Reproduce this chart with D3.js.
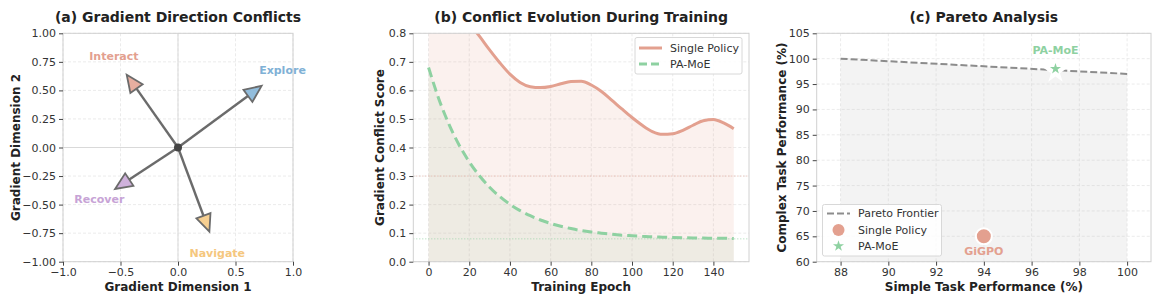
<!DOCTYPE html>
<html>
<head>
<meta charset="utf-8">
<title>Gradient conflicts, conflict evolution and Pareto analysis</title>
<script src="https://d3js.org/d3.v7.min.js"></script>
<style>
  body { margin: 0; background: #fff; }
  svg { font-family: "DejaVu Sans", sans-serif; }
  .tick text { font-size: 11px; fill: #333; }
  .title { font-size: 14px; font-weight: bold; fill: #222; }
  .alabel { font-size: 12px; font-weight: bold; fill: #222; }
  .legend text { font-size: 11px; fill: #333; }
</style>
</head>
<body>
<svg id="chart" width="1163" height="305"></svg>
<script>
// (a) gradient directions (arrow tips in gradient space)
var taskNames = ["Explore", "Interact", "Recover", "Navigate"];
var taskDx = [0.727, -0.446, -0.547, 0.273];
var taskDy = [0.540, 0.637, -0.363, -0.737];
var taskColors = ["#7fb1d6", "#e3a08f", "#c7a3d6", "#f5c77e"];
var aTicksX = [-1.0, -0.5, 0.0, 0.5, 1.0];
var aTicksY = [-1.00, -0.75, -0.50, -0.25, 0.00, 0.25, 0.50, 0.75, 1.00];

// (b) conflict score over training
var epochs = [0, 5, 10, 15, 20, 25, 30, 35, 40, 45, 50, 55, 60, 65, 70, 75, 80, 85, 90, 95,
              100, 105, 110, 115, 120, 125, 130, 135, 140, 145, 150];
var singlePolicy = [1.05, 1.00, 0.94, 0.885, 0.835, 0.79, 0.742, 0.697, 0.657, 0.628, 0.613, 0.610,
                    0.614, 0.623, 0.631, 0.632, 0.619, 0.596, 0.566, 0.535, 0.505, 0.478, 0.456,
                    0.446, 0.448, 0.460, 0.478, 0.494, 0.498, 0.486, 0.466];
var paMoE = [0.680, 0.571, 0.482, 0.409, 0.350, 0.301, 0.261, 0.228, 0.201, 0.179, 0.161, 0.146,
             0.134, 0.124, 0.116, 0.109, 0.104, 0.100, 0.096, 0.093, 0.091, 0.089, 0.087, 0.086,
             0.085, 0.084, 0.083, 0.083, 0.082, 0.082, 0.081];
var singleThreshold = 0.30, moeThreshold = 0.08;
var bTicksX = [0, 20, 40, 60, 80, 100, 120, 140];
var bTicksY = [0.0, 0.1, 0.2, 0.3, 0.4, 0.5, 0.6, 0.7, 0.8];

// (c) pareto analysis
var frontierX = [88, 100];
var frontierY = [100, 97];
var singlePoint = [94, 65];
var moePoint = [97, 98];
var cTicksX = [88, 90, 92, 94, 96, 98, 100];
var cTicksY = [60, 65, 70, 75, 80, 85, 90, 95, 100, 105];

var salmon = "#e3a08f", green = "#8ed1a1", arrowGray = "#6b6b6b";
var svg = d3.select("#chart");
var plotTop = 33.3, plotBottom = 261.7;

function panel(x0, x1, xDom, yDom, xt, yt, xfmt, yfmt, title, xl, yl, ylx) {
  var x = d3.scaleLinear().domain(xDom).range([x0, x1]);
  var y = d3.scaleLinear().domain(yDom).range([plotBottom, plotTop]);
  var g = svg.append("g");
  // grid
  g.selectAll(".gx").data(xt).enter().append("line")
    .attr("x1", d => x(d)).attr("x2", d => x(d)).attr("y1", plotTop).attr("y2", plotBottom)
    .attr("stroke", "#e6e6e6").attr("stroke-width", 0.8).attr("stroke-dasharray", "3,2");
  g.selectAll(".gy").data(yt).enter().append("line")
    .attr("y1", d => y(d)).attr("y2", d => y(d)).attr("x1", x0).attr("x2", x1)
    .attr("stroke", "#e6e6e6").attr("stroke-width", 0.8).attr("stroke-dasharray", "3,2");
  var plot = svg.append("g");
  var over = svg.append("g");
  over.append("rect").attr("x", x0).attr("y", plotTop).attr("width", x1 - x0).attr("height", plotBottom - plotTop)
    .attr("fill", "none").attr("stroke", "#d0d0d0").attr("stroke-width", 1);
  var ax = over.append("g").attr("transform", "translate(0," + plotBottom + ")")
    .call(d3.axisBottom(x).tickValues(xt).tickFormat(xfmt).tickSize(4).tickPadding(3));
  var ay = over.append("g").attr("transform", "translate(" + x0 + ",0)")
    .call(d3.axisLeft(y).tickValues(yt).tickFormat(yfmt).tickSize(4).tickPadding(3));
  [ax, ay].forEach(function(a) {
    a.select(".domain").remove();
    a.selectAll(".tick line").attr("stroke", "#444");
    a.selectAll(".tick text").attr("font-family", "DejaVu Sans");
  });
  over.append("text").attr("class", "title").attr("text-anchor", "middle")
    .attr("x", (x0 + x1) / 2).attr("y", 22).text(title);
  over.append("text").attr("class", "alabel").attr("text-anchor", "middle")
    .attr("x", (x0 + x1) / 2).attr("y", 291).text(xl);
  over.append("text").attr("class", "alabel").attr("text-anchor", "middle")
    .attr("transform", "translate(" + ylx + "," + (plotTop + plotBottom) / 2 + ") rotate(-90)").text(yl);
  return { x: x, y: y, g: g, plot: plot, over: over };
}

function minusFmt(p) {
  var f = d3.format("." + p + "f");
  return function(d) { return f(d).replace("-", "\u2212"); };
}

// ---------- (a) ----------
var A = panel(63, 293, [-1, 1], [-1, 1], aTicksX, aTicksY, minusFmt(1), minusFmt(2),
  "(a) Gradient Direction Conflicts", "Gradient Dimension 1", "Gradient Dimension 2", 20);
A.g.append("line").attr("x1", A.x(0)).attr("x2", A.x(0)).attr("y1", plotTop).attr("y2", plotBottom)
  .attr("stroke", "#d9d9d9").attr("stroke-width", 1);
A.g.append("line").attr("y1", A.y(0)).attr("y2", A.y(0)).attr("x1", 63).attr("x2", 293)
  .attr("stroke", "#d9d9d9").attr("stroke-width", 1);

taskNames.forEach(function(name, i) {
  var cx = A.x(0), cy = A.y(0);
  var tx = A.x(taskDx[i]), ty = A.y(taskDy[i]);
  var len = Math.hypot(tx - cx, ty - cy);
  var ux = (tx - cx) / len, uy = (ty - cy) / len;
  var hl = 17, hw = 7.5;
  var bx = tx - ux * hl, by = ty - uy * hl;
  A.plot.append("line").attr("x1", cx).attr("y1", cy).attr("x2", bx).attr("y2", by)
    .attr("stroke", arrowGray).attr("stroke-width", 2.4);
  var pts = [[tx, ty], [bx - uy * hw, by + ux * hw], [bx + uy * hw, by - ux * hw]];
  A.plot.append("path").attr("d", "M" + pts.join("L") + "Z")
    .attr("fill", taskColors[i]).attr("fill-opacity", 0.85)
    .attr("stroke", arrowGray).attr("stroke-width", 1.8).attr("stroke-linejoin", "miter");
  A.plot.append("text").attr("x", A.x(taskDx[i] * 1.25)).attr("y", A.y(taskDy[i] * 1.25))
    .attr("dy", "0.35em").attr("text-anchor", "middle")
    .attr("font-size", "11px").attr("font-weight", "bold").attr("fill", taskColors[i]).text(name);
});
A.plot.append("circle").attr("cx", A.x(0)).attr("cy", A.y(0)).attr("r", 4).attr("fill", "#444");

// ---------- (b) ----------
var B = panel(413.3, 749, [-7.5, 157.5], [0, 0.8], bTicksX, bTicksY, d3.format("d"), d3.format(".1f"),
  "(b) Conflict Evolution During Training", "Training Epoch", "Gradient Conflict Score", 384);
svg.append("clipPath").attr("id", "clipB").append("rect")
  .attr("x", 413.3).attr("y", plotTop).attr("width", 749 - 413.3).attr("height", plotBottom - plotTop);
var bp = B.plot.append("g").attr("clip-path", "url(#clipB)");
var sp = epochs.map((e, i) => [e, singlePolicy[i]]);
var mp = epochs.map((e, i) => [e, paMoE[i]]);
var area = d3.area().x(d => B.x(d[0])).y0(B.y(0)).y1(d => B.y(d[1])).curve(d3.curveMonotoneX);
var line = d3.line().x(d => B.x(d[0])).y(d => B.y(d[1])).curve(d3.curveMonotoneX);
bp.append("path").attr("d", area(sp)).attr("fill", salmon).attr("fill-opacity", 0.15);
bp.append("path").attr("d", area(mp)).attr("fill", "#a8c8a8").attr("fill-opacity", 0.15);
bp.append("line").attr("x1", 413.3).attr("x2", 749).attr("y1", B.y(singleThreshold)).attr("y2", B.y(singleThreshold))
  .attr("stroke", salmon).attr("stroke-width", 1).attr("stroke-dasharray", "1,2").attr("opacity", 0.7);
bp.append("line").attr("x1", 413.3).attr("x2", 749).attr("y1", B.y(moeThreshold)).attr("y2", B.y(moeThreshold))
  .attr("stroke", green).attr("stroke-width", 1).attr("stroke-dasharray", "1,2").attr("opacity", 0.8);
bp.append("path").attr("d", line(sp)).attr("fill", "none").attr("stroke", salmon).attr("stroke-width", 3);
bp.append("path").attr("d", line(mp)).attr("fill", "none").attr("stroke", green).attr("stroke-width", 3)
  .attr("stroke-dasharray", "10,5");

var lb = B.over.append("g").attr("class", "legend");
lb.append("rect").attr("x", 635).attr("y", 37.5).attr("width", 107).attr("height", 36.5).attr("rx", 2)
  .attr("fill", "#fff").attr("fill-opacity", 0.85).attr("stroke", "#d8d8d8");
lb.append("line").attr("x1", 639).attr("x2", 662).attr("y1", 48).attr("y2", 48)
  .attr("stroke", salmon).attr("stroke-width", 3);
lb.append("line").attr("x1", 639).attr("x2", 662).attr("y1", 64).attr("y2", 64)
  .attr("stroke", green).attr("stroke-width", 3).attr("stroke-dasharray", "8,4");
lb.append("text").attr("x", 670).attr("y", 48).attr("dy", "0.35em").text("Single Policy");
lb.append("text").attr("x", 670).attr("y", 64).attr("dy", "0.35em").text("PA-MoE");

// ---------- (c) ----------
var C = panel(816.7, 1151, [87, 101], [60, 105], cTicksX, cTicksY, d3.format("d"), d3.format("d"),
  "(c) Pareto Analysis", "Simple Task Performance (%)", "Complex Task Performance (%)", 786);
var fr = frontierX.map((v, i) => [v, frontierY[i]]);
C.plot.append("path")
  .attr("d", d3.area().x(d => C.x(d[0])).y0(C.y(60)).y1(d => C.y(d[1]))(fr))
  .attr("fill", "#bdbdbd").attr("fill-opacity", 0.18);
C.plot.append("path").attr("d", d3.line().x(d => C.x(d[0])).y(d => C.y(d[1]))(fr))
  .attr("fill", "none").attr("stroke", "#8c8c8c").attr("stroke-width", 2).attr("stroke-dasharray", "7,3");
C.plot.append("circle").attr("cx", C.x(singlePoint[0])).attr("cy", C.y(singlePoint[1])).attr("r", 8)
  .attr("fill", salmon).attr("stroke", "#fff").attr("stroke-width", 2);
var star = d3.symbol().type(d3.symbolStar);
C.plot.append("path").attr("d", star.size(170)())
  .attr("transform", "translate(" + C.x(moePoint[0]) + "," + (C.y(moePoint[1]) + 3) + ")").attr("fill", "#fff");
C.plot.append("path").attr("d", star.size(38)())
  .attr("transform", "translate(" + C.x(moePoint[0]) + "," + C.y(moePoint[1]) + ")").attr("fill", green);
C.plot.append("text").attr("x", C.x(singlePoint[0])).attr("y", C.y(singlePoint[1]) + 19)
  .attr("text-anchor", "middle").attr("font-size", "11px").attr("font-weight", "bold").attr("fill", salmon).text("GiGPO");
C.plot.append("text").attr("x", C.x(moePoint[0])).attr("y", C.y(moePoint[1]) - 15)
  .attr("text-anchor", "middle").attr("font-size", "11px").attr("font-weight", "bold").attr("fill", green).text("PA-MoE");

var lc = C.over.append("g").attr("class", "legend");
lc.append("rect").attr("x", 822.5).attr("y", 204.5).attr("width", 119).attr("height", 51.5).attr("rx", 2)
  .attr("fill", "#fff").attr("fill-opacity", 0.85).attr("stroke", "#d8d8d8");
lc.append("line").attr("x1", 827).attr("x2", 850).attr("y1", 213.5).attr("y2", 213.5)
  .attr("stroke", "#8c8c8c").attr("stroke-width", 2).attr("stroke-dasharray", "7,3");
lc.append("circle").attr("cx", 838.5).attr("cy", 230).attr("r", 6).attr("fill", salmon);
lc.append("path").attr("d", star.size(38)()).attr("transform", "translate(838.5,246)").attr("fill", green);
lc.append("text").attr("x", 858).attr("y", 213.5).attr("dy", "0.35em").text("Pareto Frontier");
lc.append("text").attr("x", 858).attr("y", 230).attr("dy", "0.35em").text("Single Policy");
lc.append("text").attr("x", 858).attr("y", 246).attr("dy", "0.35em").text("PA-MoE");
</script>
</body>
</html>
